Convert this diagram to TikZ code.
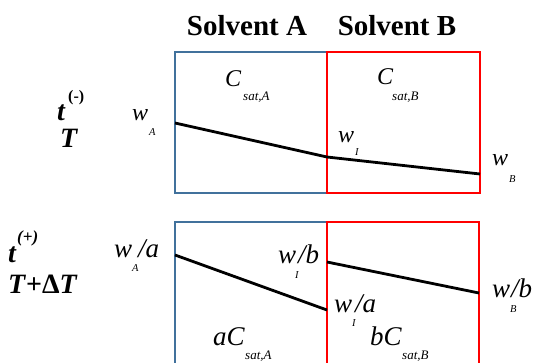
\documentclass[tikz,border=0pt]{standalone}
\usepackage{fontspec}
\setmainfont{Liberation Serif}
\definecolor{solvA}{HTML}{41719C}
\definecolor{solvB}{HTML}{FF0000}
\begin{document}
\begin{tikzpicture}[x=1pt,y=-1pt,
  boxA/.style={draw=solvA, line width=2.5pt},
  boxB/.style={draw=solvB, line width=2.5pt},
  prof/.style={draw=black, line width=2.8pt},
  head/.style={inner sep=0pt, anchor=base, font=\fontsize{29}{29}\selectfont\bfseries},
  big/.style={inner sep=0pt, anchor=base west, font=\fontsize{24}{24}\selectfont\itshape},
  bigb/.style={inner sep=0pt, anchor=base west, font=\fontsize{27}{27}\selectfont\itshape},
  slash/.style={bigb, text depth=0pt},
  subs/.style={inner sep=0pt, anchor=base west, font=\fontsize{10.5}{10.5}\selectfont\itshape},
  subsat/.style={inner sep=0pt, anchor=base west, font=\fontsize{13}{13}\selectfont\itshape},
  tlab/.style={inner sep=0pt, anchor=base west, font=\fontsize{28}{28}\selectfont\bfseries\itshape},
  tsup/.style={inner sep=0pt, anchor=base west, font=\fontsize{16}{16}\selectfont\bfseries}
]
\useasboundingbox (0,0) rectangle (538,362);
\clip (0,0) rectangle (538,362);
% headings
\node[head] (hA) at (247,35) {Solvent A};
\node[head] (hB) at (397,35) {Solvent B};
% top boxes
\draw[boxA] (175,52) rectangle (327,193);
\draw[boxB] (327,52) rectangle (480,193);
% bottom boxes
\draw[boxA] (175,222) rectangle (327,380);
\draw[boxB] (327,222) rectangle (479,380);
% profile points
\coordinate (p1) at (175,123);
\coordinate (p2) at (327,157);
\coordinate (p3) at (480,174);
\coordinate (q1) at (175,255);
\coordinate (q2) at (327,310);
\coordinate (r1) at (327,262);
\coordinate (r2) at (479,293);
\draw[prof] (p1) -- (p2) -- (p3);
\draw[prof] (q1) -- (q2);
\draw[prof] (r1) -- (r2);
% left labels
\node[tlab] (t1) at (57,120) {t};
\node[tsup] (t1s) at (68,101) {(-)};
\node[tlab] (T1) at (60,147) {T};
\node[tlab] (t2) at (8,262) {t};
\node[tsup, font=\fontsize{17}{17}\selectfont\bfseries\itshape] (t2s) at (17,242) {(+)};
\node[tlab] (T2) at (8,293) {T\textup{+Δ}T};
% top labels
\node[big] (CA) at (225,86) {C};
\node[subsat] (CAs) at (243,100) {sat,A};
\node[big] (CB) at (377,84) {C};
\node[subsat] (CBs) at (392,100) {sat,B};
\node[big] (wA) at (132,120) {w};
\node[subs] (wAs) at (149,135) {A};
\node[big] (wI) at (338,142) {w};
\node[subs] (wIs) at (355,155) {I};
\node[big] (wB) at (492,165) {w};
\node[subs] (wBs) at (509,182) {B};
% bottom labels
\node[bigb] (wA2) at (114,257) {w};
\node[slash] (wA2a) at (138,257) {/a};
\node[subs] (wA2s) at (132,271) {A};
\node[bigb] (aC) at (213,345) {aC};
\node[subsat] (aCs) at (245,359) {sat,A};
\node[bigb] (wIb) at (278,263) {w};
\node[slash] (wIbb) at (298,263) {/b};
\node[subs] (wIbs) at (295,278) {I};
\node[bigb] (wIa) at (334,312) {w};
\node[slash] (wIaa) at (355,312) {/a};
\node[subs] (wIas) at (352,326) {I};
\node[bigb] (bC) at (370,345) {bC};
\node[subsat] (bCs) at (402,359) {sat,B};
\node[bigb] (wB2) at (492,297) {w};
\node[slash] (wB2b) at (511,297) {/b};
\node[subs] (wB2s) at (510,312) {B};
\end{tikzpicture}
\end{document}
